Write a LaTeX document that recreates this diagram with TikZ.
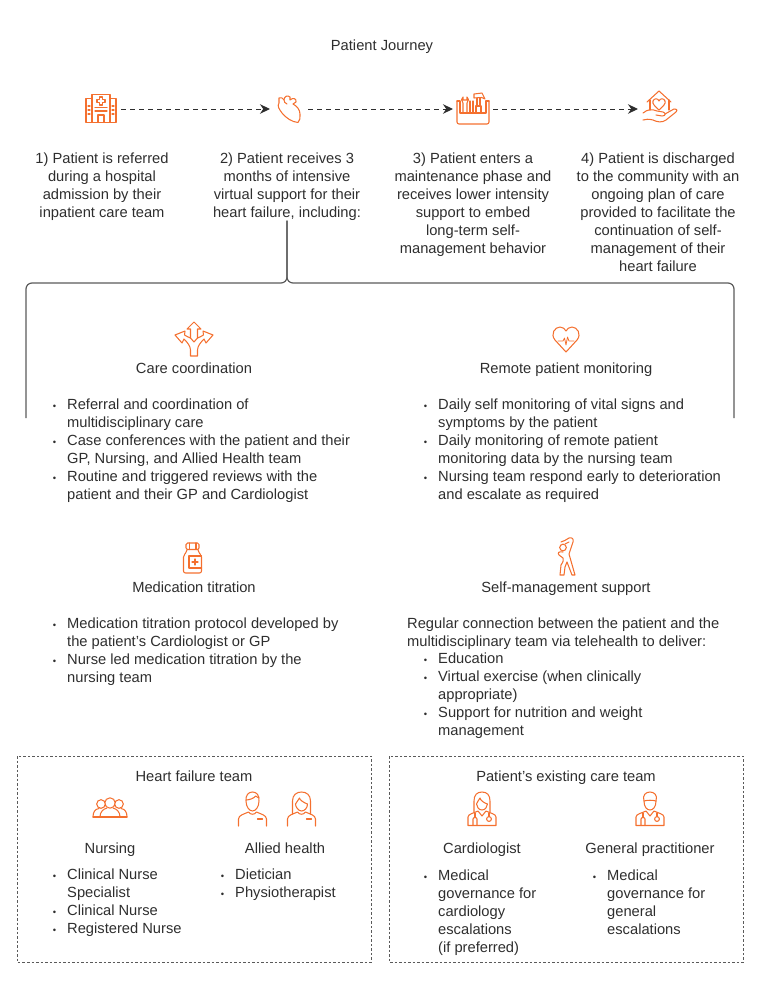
\documentclass[tikz,border=0pt]{standalone}
\usepackage{fontspec}
\setmainfont{Liberation Sans}
\usetikzlibrary{arrows.meta}
\definecolor{inkgrey}{HTML}{2E2E2E}
\definecolor{iconorange}{HTML}{F4702F}
\definecolor{linegrey}{HTML}{5A5A5A}
\newcommand{\itm}{\llap{\fontsize{9.5}{18}\selectfont\textbullet\hspace{11pt}}}
\tikzset{
  bodytext/.style={inner sep=0pt, text=inkgrey, font=\fontsize{14.7}{18}\selectfont},
  steptext/.style={bodytext, anchor=north, align=center},
  headtext/.style={bodytext, anchor=center, text height=11pt, text depth=3pt},
  listtext/.style={bodytext, anchor=north west, align=left},
  iconbox/.style={inner sep=0pt, outer sep=0pt, minimum height=30pt},
  iconline/.style={draw=iconorange, line width=1.05pt, line join=round, line cap=round},
  flow/.style={draw=inkgrey, line width=1pt, dash pattern=on 4.5pt off 4.5pt, -{Stealth[length=10pt, width=9.5pt]}},
  bracketline/.style={draw=linegrey, line width=1.2pt, rounded corners=6pt},
  teambox/.style={draw=linegrey, line width=0.6pt, dash pattern=on 2.5pt off 2pt},
  pics/hospitalicon/.style={code={
    \draw[iconline] (-9,-14.5) rectangle (9,13.5);
    \draw[iconline] (-9,-10.5) -- (-15,-10.5) -- (-15,13.5) -- (15,13.5) -- (15,-10.5) -- (9,-10.5);
    \draw[iconline] (-1.5,-12) -- (1.5,-12) -- (1.5,-9.5) -- (4,-9.5) -- (4,-6.5) -- (1.5,-6.5) -- (1.5,-4) -- (-1.5,-4) -- (-1.5,-6.5) -- (-4,-6.5) -- (-4,-9.5) -- (-1.5,-9.5) -- cycle;
    \draw[iconline] (-6,-1.5) -- (6,-1.5) (-6,2) -- (6,2);
    \draw[iconline] (-3,13.5) -- (-3,6) -- (3,6) -- (3,13.5);
    \foreach \y in {-3,1,5} {\draw[iconline] (-13,\y) -- (-11,\y) (11,\y) -- (13,\y);}
  }},
  pics/hearticon/.style={code={
    \draw[iconline] (-10,-11) .. controls (-8,-12) and (-6,-11) .. (-5,-9) .. controls (-5,-13) and (-1,-14) .. (1,-12) -- (1,-9) .. controls (4,-12) and (8,-10) .. (7,-7) -- (4,-5) .. controls (8,-3) and (11,1) .. (11,5) .. controls (11,9) and (11,12) .. (9,13.5) .. controls (3,13) and (-3,9) .. (-7,4) .. controls (-10,0) and (-12,-3) .. (-10,-6) -- cycle;
    \draw[iconline] (-5,-9) .. controls (-5,-7) and (-4,-6) .. (-2,-5);
  }},
  pics/toolboxicon/.style={code={
    \draw[iconline, rounded corners=2pt] (-16,-8) -- (-16,15) -- (16,15) -- (16,-8);
    \draw[iconline] (-16,-8) -- (-13,-8) -- (-13,4) -- (13,4) -- (13,-8) -- (16,-8);
    \draw[iconline] (-10,4) -- (-10,-6) .. controls (-12,-8) and (-12,-11) .. (-10,-12) -- (-10,-9) -- (-6,-9) -- (-6,-12) .. controls (-4,-11) and (-4,-8) .. (-6,-6) -- (-6,4);
    \draw[iconline] (-3,4) -- (-3,-8) (0,4) -- (0,-8);
    \draw[iconline] (3,4) -- (3,-3) -- (8,-3) -- (8,4) (4,-3) -- (4,-11) (7,-3) -- (7,-11);
    \draw[iconline] (1,-11) -- (1,-15) -- (9,-16) -- (12,-10) -- (8.5,-11.5) -- cycle;
  }},
  pics/handicon/.style={code={
    \draw[iconline] (-13,-7) -- (-1,-18) -- (11,-7);
    \draw[iconline] (-10,-9) -- (-10,1) (9,-9) -- (9,1);
    \draw[iconline] (-1,1) .. controls (-5,-3) and (-8,-5) .. (-7,-8) .. controls (-6,-11) and (-2,-11) .. (-1,-8) .. controls (0,-11) and (4,-11) .. (5,-8) .. controls (6,-5) and (3,-3) .. (-1,1) -- cycle;
    \draw[iconline] (-17,4) .. controls (-12,0) and (-8,0) .. (-3,2) -- (3,3) .. controls (6,4) and (6,7) .. (2,7) -- (-4,6);
    \draw[iconline] (5,5) -- (14,0) .. controls (16,-1) and (18,1) .. (16,3) -- (6,11) .. controls (2,14) and (-3,13) .. (-7,11) .. controls (-11,10) and (-14,10) .. (-17,11);
  }},
  pics/arrowsicon/.style={code={
    \draw[iconline] (-3.5,17) -- (-3.5,11) .. controls (-3.5,7) and (-7,3) .. (-10,0) -- (-12,4) -- (-19,-4) -- (-9,-8) -- (-9.5,-4) .. controls (-7,-3) and (-5,-1) .. (-3.5,-1) -- (-3.5,-10) -- (-7,-10) -- (0,-17) -- (7,-10) -- (3.5,-10) -- (3.5,-1) .. controls (5,-1) and (7,-3) .. (9.5,-4) -- (9,-8) -- (19,-4) -- (12,4) -- (10,0) .. controls (7,3) and (3.5,7) .. (3.5,11) -- (3.5,17) -- cycle;
    \draw[iconline] (-3.5,-1) -- (0,3) -- (3.5,-1);
  }},
  pics/monitoricon/.style={code={
    \draw[iconline] (0,13) -- (-11,1) .. controls (-16,-5) and (-11,-12) .. (-6,-12) .. controls (-3,-12) and (-1,-10) .. (0,-8) .. controls (1,-10) and (3,-12) .. (6,-12) .. controls (11,-12) and (16,-5) .. (11,1) -- cycle;
    \draw[iconline, line width=0.8pt] (-8,2) -- (-3,2) -- (-1.5,-1) -- (0,6) -- (1.5,-2) -- (3,2) -- (8,2);
  }},
  pics/bottleicon/.style={code={
    \draw[iconline, rounded corners=1.5pt] (-7,-15) rectangle (6,-8.5);
    \draw[iconline] (-3.5,-15) -- (-3.5,-8.5) (3,-15) -- (3,-8.5);
    \draw[iconline, rounded corners=2pt] (-6,-8.5) -- (-6,-6) -- (-9.5,-3) -- (-9.5,15) -- (8.5,15) -- (8.5,-3) -- (5,-6) -- (5,-8.5);
    \draw[iconline] (8.5,-2) -- (-4,-2) -- (-4,10) -- (8.5,10);
    \draw[iconline] (2,1) -- (2,7) (-1,4) -- (5,4);
  }},
  pics/exerciseicon/.style={code={
    \draw[iconline] (-3,-9.5) circle (3.3);
    \draw[iconline] (-5,-15) .. controls (-2,-16) and (0,-17) .. (3,-19) .. controls (6,-20) and (8,-18) .. (7,-15) -- (3,-3) -- (9,18) -- (6,18) -- (1,5) -- (-1,10) -- (-2,18) -- (-6,18) -- (-5,8) .. controls (-3,5) and (-2,3) .. (-3,1) -- (-7,-2) .. controls (-9,-4) and (-7,-6) .. (-3,-5);
    \draw[iconline] (3,-15) .. controls (2,-14) and (0,-14) .. (-1,-13);
  }},
  pics/groupicon/.style={code={
    \draw[iconline] (0,-4) circle (5.2) (-9,-3) circle (4.3) (9,-3) circle (4.3);
    \draw[iconline] (-17,10) .. controls (-17,5) and (-15,2) .. (-11,1.5) (17,10) .. controls (17,5) and (15,2) .. (11,1.5);
    \draw[iconline] (-10,10) .. controls (-10,5) and (-7,2) .. (-3,1) (10,10) .. controls (10,5) and (7,2) .. (3,1);
    \draw[iconline] (-17,10) -- (17,10);
  }},
  pics/manicon/.style={code={
    \draw[iconline] (-6.5,-8) .. controls (-7,-14) and (-4,-17) .. (0,-17) .. controls (4,-17) and (7,-14) .. (6.5,-8) .. controls (6.5,-2) and (3,2) .. (0,2) .. controls (-3,2) and (-6.5,-2) .. (-6.5,-8);
    \draw[iconline] (-6.5,-9) .. controls (-3,-9) and (2,-11) .. (3,-13) -- (6.5,-11);
    \draw[iconline] (-14,17) -- (-14,10) .. controls (-14,6) and (-8,5) .. (-4,3) .. controls (-2,6) and (2,6) .. (4,3) .. controls (8,5) and (14,6) .. (14,10) -- (14,17);
    \draw[iconline] (5,10) -- (10,10);
  }},
  pics/womanicon/.style={code={
    \draw[iconline] (-9,5) -- (-9,-8) .. controls (-9,-14) and (-5,-17) .. (0,-17) .. controls (5,-17) and (9,-14) .. (9,-8) -- (9,5);
    \draw[iconline] (-6,-5) .. controls (-6,-2) and (-3,2) .. (0,2) .. controls (3,2) and (6,-1) .. (6,-5) .. controls (3,-6) and (-2,-9) .. (-2,-11) .. controls (-3,-9) and (-5,-7) .. (-6,-5);
    \draw[iconline] (-14,17) -- (-14,10) .. controls (-14,6) and (-8,5) .. (-4,3) .. controls (-2,6) and (2,6) .. (4,3) .. controls (8,5) and (14,6) .. (14,10) -- (14,17);
    \draw[iconline] (5,10) -- (10,10);
  }},
  pics/scopeparts/.style={code={
    \draw[iconline] (-14,16.5) -- (-14,8) .. controls (-14,5) and (-8,4) .. (-4,2) -- (0,7) -- (4,2) .. controls (8,4) and (14,5) .. (14,8) -- (14,16.5) -- cycle;
    \draw[iconline] (-9,16.5) -- (-9,10) .. controls (-9,8) and (-5,8) .. (-5,10) -- (-5,16.5);
    \draw[iconline] (-7,8.5) -- (-7,4) (7,4) -- (7,7.5);
    \draw[iconline] (7,10) circle (2.4);
  }},
  pics/femaledocicon/.style={code={
    \pic {scopeparts};
    \draw[iconline] (-8,3) -- (-8,-8) .. controls (-8,-14) and (-5,-17) .. (0,-17) .. controls (5,-17) and (8,-14) .. (8,-8) -- (8,3);
    \draw[iconline] (-5.5,-5) .. controls (-5.5,-2) and (-3,1) .. (0,1) .. controls (3,1) and (5.5,-2) .. (5.5,-5) .. controls (2,-6) and (-2,-9) .. (-2,-11) .. controls (-3,-9) and (-5,-7) .. (-5.5,-5);
  }},
  pics/maledocicon/.style={code={
    \pic {scopeparts};
    \draw[iconline] (-6,-8) .. controls (-6,-2) and (-3,1) .. (0,1) .. controls (3,1) and (6,-2) .. (6,-8) .. controls (3,-9) and (-3,-9) .. (-6,-8);
    \draw[iconline] (-6,-8) .. controls (-8,-14) and (-4,-17) .. (0,-17) .. controls (4,-17) and (8,-14) .. (6,-8);
  }},
}
\begin{document}
\begin{tikzpicture}[x=1pt, y=-1pt]
  \useasboundingbox (0,0) rectangle (761,1004);

  \node[headtext] (journey) at (382,46) {Patient Journey};

  % journey icons
  \node[iconbox, minimum width=40pt] (hospital) at (101,109) {};
  \node[iconbox, minimum width=38pt] (heart) at (289,109) {};
  \node[iconbox, minimum width=40pt] (toolbox) at (473,109) {};
  \node[iconbox, minimum width=44pt] (hand) at (660,109) {};
  \pic at (hospital) {hospitalicon};
  \pic at (heart) {hearticon};
  \pic at (toolbox) {toolboxicon};
  \pic at (hand) {handicon};

  \draw[flow] (hospital) -- (heart);
  \draw[flow] (heart) -- (toolbox);
  \draw[flow] (toolbox) -- (hand);

  \node[steptext] (step1) at (102,152.5) {1) Patient is referred\\during a hospital\\admission by their\\inpatient care team};
  \node[steptext] (step2) at (287,152.5) {2) Patient receives 3\\months of intensive\\virtual support for their\\heart failure, including:};
  \node[steptext] (step3) at (473,152.5) {3) Patient enters a\\maintenance phase and\\receives lower intensity\\support to embed\\long-term self-\\management behavior};
  \node[steptext] (step4) at (658,152.5) {4) Patient is discharged\\to the community with an\\ongoing plan of care\\provided to facilitate the\\continuation of self-\\management of their\\heart failure};

  % bracket under step 2
  \coordinate (stem) at (287,283);
  \coordinate (leftend) at (26,418);
  \coordinate (rightend) at (734,418);
  \draw[bracketline] (leftend) |- (stem) -- (step2.south);
  \draw[bracketline] (rightend) |- (stem) -- (step2.south);

  \pic at (194,339) {arrowsicon};
  \pic at (566,339) {monitoricon};
  \node[headtext] (care) at (194,369) {Care coordination};
  \node[headtext] (remote) at (566,369) {Remote patient monitoring};
  \node[listtext] (carelist) at (67,398.5) {\itm Referral and coordination of\\multidisciplinary care\\\itm Case conferences with the patient and their\\GP, Nursing, and Allied Health team\\\itm Routine and triggered reviews with the\\patient and their GP and Cardiologist};
  \node[listtext] (remotelist) at (438,398.5) {\itm Daily self monitoring of vital signs and\\symptoms by the patient\\\itm Daily monitoring of remote patient\\monitoring data by the nursing team\\\itm Nursing team respond early to deterioration\\and escalate as required};

  \pic at (193,558) {bottleicon};
  \pic at (566,557) {exerciseicon};
  \node[headtext] (titration) at (194,588) {Medication titration};
  \node[headtext] (selfmgmt) at (566,588) {Self-management support};
  \node[listtext] (titrationlist) at (67,617.5) {\itm Medication titration protocol developed by\\the patient's Cardiologist or GP\\\itm Nurse led medication titration by the\\nursing team};
  \node[listtext] (selfintro) at (407,617.5) {Regular connection between the patient and the\\multidisciplinary team via telehealth to deliver:};
  \node[listtext] (selflist) at (438,652.5) {\itm Education\\\itm Virtual exercise (when clinically\\appropriate)\\\itm Support for nutrition and weight\\management};

  % team boxes
  \draw[teambox] (17,756) rectangle (371,962);
  \draw[teambox] (389,756) rectangle (743,962);
  \node[headtext] (hfteam) at (194,777) {Heart failure team};
  \node[headtext] (ownteam) at (566,777) {Patient's existing care team};

  \pic at (110,807) {groupicon};
  \pic at (252.5,809) {manicon};
  \pic at (301.5,809) {womanicon};
  \pic at (482,809) {femaledocicon};
  \pic at (650,809) {maledocicon};

  \node[headtext] (nursing) at (110,849) {Nursing};
  \node[headtext] (allied) at (285,849) {Allied health};
  \node[headtext] (cardio) at (482,849) {Cardiologist};
  \node[headtext] (gp) at (650,849) {General practitioner};
  \node[listtext] (nursinglist) at (67,868.5) {\itm Clinical Nurse\\Specialist\\\itm Clinical Nurse\\\itm Registered Nurse};
  \node[listtext] (alliedlist) at (235,868.5) {\itm Dietician\\\itm Physiotherapist};
  \node[listtext] (cardiolist) at (438,869.5) {\itm Medical\\governance for\\cardiology\\escalations\\(if preferred)};
  \node[listtext] (gplist) at (607,869.5) {\itm Medical\\governance for\\general\\escalations};
\end{tikzpicture}
\end{document}
